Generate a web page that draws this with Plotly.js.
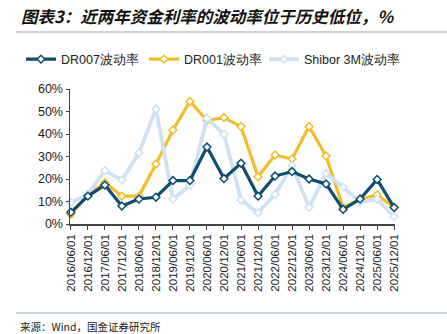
<!DOCTYPE html>
<html><head><meta charset="utf-8">
<script src="https://cdn.plot.ly/plotly-3.0.1.min.js"></script>
<style>html,body{margin:0;padding:0;background:#fff}#c{width:447px;height:334px}</style>
</head><body><div id="c"></div>
<script>
const categories = ["2016/06/01","2016/12/01","2017/06/01","2017/12/01","2018/06/01","2018/12/01","2019/06/01","2019/12/01","2020/06/01","2020/12/01","2021/06/01","2021/12/01","2022/06/01","2022/12/01","2023/06/01","2023/12/01","2024/06/01","2024/12/01","2025/06/01","2025/12/01"];
const dr007 = [5.2,12.4,17.3,8.0,11.1,11.9,19.3,19.3,34.2,20.2,27.0,12.4,21.3,23.3,20.0,17.8,6.5,11.1,19.8,7.3];
const dr001 = [4.3,12.9,18.4,12.4,12.4,26.7,41.8,54.5,46.0,47.3,43.3,21.0,30.7,28.9,43.3,30.2,7.3,11.0,12.9,7.4];
const shibor = [9.5,13.2,23.7,19.6,31.6,51.1,11.1,17.2,47.0,39.9,10.7,5.0,13.2,25.9,7.4,22.5,16.3,9.9,11.0,3.3];
const names = ["DR007波动率","DR001波动率","Shibor 3M波动率"];
const colors = ["#0e4d70","#f2bd2c","#cfe2f3"];
const widths = [3.2,3.2,3.8];
const legendIds = ["legend","legend2","legend3"];

function tr(y, i){
  return {x: categories, y: y, name: names[i], type:'scatter', mode:'lines+markers',
    legend: legendIds[i], cliponaxis:false,
    line:{color:colors[i], width:widths[i]},
    marker:{symbol:'diamond', size:6, color:'#ffffff', line:{color:colors[i], width:1.5}}};
}
const data = [tr(dr001,1), tr(shibor,2), tr(dr007,0)];
const font = "Liberation Sans, Arial, sans-serif";
const ph = 334-89-110, pw = 447-70-52;
function py(pix){ return (334-110-pix)/ph; }
function px(pix){ return (pix-70)/pw; }
function leg(xpix){
  return {orientation:'h', xanchor:'left', yanchor:'middle', x:px(xpix), y:py(59.5),
    font:{family:font, size:12.5, color:'#222'}, itemwidth:30, bgcolor:'rgba(0,0,0,0)'};
}
const layout = {
  width:447, height:334, margin:{l:70, r:52, t:89, b:110},
  paper_bgcolor:'#fff', plot_bgcolor:'#fff',
  showlegend:true,
  legend:leg(21), legend2:leg(144), legend3:leg(264),
  xaxis:{type:'category', range:[-0.05,19.05], showline:true, linecolor:'#444', linewidth:1.5,
    ticks:'outside', ticklen:4, tickcolor:'#444', tickangle:-90, showgrid:false, zeroline:false,
    tickfont:{family:font, size:11.5, color:'#222'}},
  yaxis:{range:[0,60], dtick:10, ticksuffix:'%', showline:true, linecolor:'#444', linewidth:1.5,
    ticks:'outside', ticklen:3, tickcolor:'#444', showgrid:false, zeroline:false,
    tickfont:{family:font, size:12.5, color:'#222'}},
  annotations:[
    {text:'<b><i>图表3：近两年资金利率的波动率位于历史低位，%</i></b>', xref:'paper', yref:'paper', xanchor:'left', yanchor:'middle', showarrow:false,
     x:px(19), y:py(16), font:{family:'Noto Sans CJK SC', size:16.5, color:'#111'}},
    {text:'来源：Wind，国金证券研究所', xref:'paper', yref:'paper', xanchor:'left', yanchor:'middle', showarrow:false,
     x:px(18), y:py(326), font:{family:'Noto Sans CJK SC', size:10.5, color:'#222'}}
  ],
  shapes:[
    {type:'line', xref:'paper', yref:'paper', x0:px(16), x1:px(447), y0:py(32), y1:py(32), line:{color:'#8fa9bd', width:1.2}},
    {type:'line', xref:'paper', yref:'paper', x0:px(16), x1:px(447), y0:py(313), y1:py(313), line:{color:'#8fa9bd', width:1.2}}
  ]
};
Plotly.newPlot('c', data, layout, {displayModeBar:false, staticPlot:true});
</script></body></html>
